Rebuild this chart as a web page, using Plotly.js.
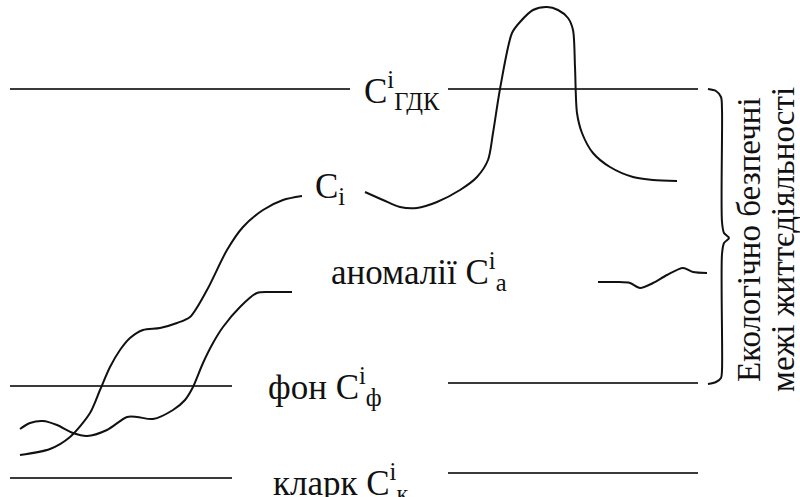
<!DOCTYPE html>
<html>
<head>
<meta charset="utf-8">
<script src="https://cdn.plot.ly/plotly-3.0.1.min.js"></script>
<style>
  #chart text, #chart tspan { font-family: "Liberation Serif", serif !important; }
</style>
</head>
<body style="margin:0">
<div id="chart"></div>
<script>
// рівні концентрацій (горизонтальні лінії), ліва і права частини
const levelY = [89, 386, 478]
const levelYRight = [89, 383, 473]
const leftEnd = [350, 232, 232]
const rightStart = [448, 448, 448]
const lineStart = 10
const lineEnd = 698

// крива Ci (дві частини, розрив під підписом)
const ciX1 = [20, 50, 70, 90, 100, 110, 120, 130, 143, 160, 177, 190, 207, 227, 243, 263, 283, 302]
const ciY1 = [455, 449, 437, 413, 390, 367, 350, 338, 330, 328, 323, 317, 290, 250, 227, 210, 200, 196]
const ciX2 = [365, 383, 400, 417, 437, 460, 477, 488, 493, 500, 512, 520, 533, 547, 558, 568, 573, 575, 577, 582, 593, 610, 633, 653, 677]
const ciY2 = [192, 200, 207, 208, 202, 190, 177, 160, 133, 89, 33, 22, 10, 7, 10, 18, 30, 67, 113, 133, 153, 167, 177, 180, 181]

// друга крива (нижня)
const c2X = [20, 30, 43, 57, 73, 87, 107, 127, 137, 153, 173, 185, 193, 203, 213, 223, 240, 257, 270, 292]
const c2Y = [429, 423, 421, 425, 433, 436, 430, 417, 417, 419, 410, 400, 387, 363, 343, 327, 307, 293, 292, 292]

// хвиля аномалії
const anX = [598, 617, 630, 640, 653, 667, 683, 693, 707]
const anY = [282, 282, 283, 288, 283, 275, 268, 272, 273]

// фігурна дужка
const braceX = [708, 716, 721, 722, 722, 724, 729, 724, 722, 722, 721, 716, 708]
const braceY = [89, 91, 97, 110, 222, 233, 238, 243, 254, 370, 378, 382, 384]

// підписи
const labels = ['C<sup>i</sup><sub>ГДК</sub>', 'C<sub>i</sub>', 'аномалії C<sup>i</sup><sub>а</sub>', 'фон C<sup>i</sup><sub>ф</sub>', 'кларк C<sup>i</sup><sub>к</sub>']
const labelX = [362, 313, 329, 266, 271]
const labelY = [90, 188, 271, 386, 482]

const sideLines = ['Екологічно безпечні', 'межі життєдіяльності']
const sideX = [749, 783]
const sideY = 240

let traces = []

// горизонтальні рівні
for (let i = 0; i < levelY.length; i++) {
  traces.push({
    x: [lineStart, leftEnd[i], null, rightStart[i], lineEnd],
    y: [levelY[i], levelY[i], null, levelYRight[i], levelYRight[i]],
    mode: 'lines', line: { color: '#3a3a3a', width: 2 }, hoverinfo: 'skip'
  })
}

const curve = (x, y) => ({
  x: x, y: y, mode: 'lines',
  line: { color: '#111', width: 2, shape: 'spline', smoothing: 0.8 },
  hoverinfo: 'skip'
})

traces.push(curve(ciX1, ciY1))
traces.push(curve(ciX2, ciY2))
traces.push(curve(c2X, c2Y))
traces.push(curve(anX, anY))
traces.push(curve(braceX, braceY))

let annotations = labels.map((t, i) => ({
  x: labelX[i], y: labelY[i], xref: 'x', yref: 'y',
  xanchor: 'left', yanchor: 'middle', showarrow: false,
  text: t, font: { family: 'Liberation Serif', size: 35 }
}))

sideLines.forEach((t, i) => {
  annotations.push({
    x: sideX[i], y: sideY, xref: 'x', yref: 'y',
    xanchor: 'center', yanchor: 'middle', showarrow: false,
    textangle: -90, text: t, font: { family: 'Liberation Serif', size: 33 }
  })
})

const layout = {
  width: 800, height: 497,
  margin: { l: 0, r: 0, t: 0, b: 0 },
  font: { family: 'Liberation Serif', color: '#111' },
  showlegend: false,
  xaxis: { range: [0, 800], visible: false },
  yaxis: { range: [497, 0], visible: false },
  annotations: annotations
}

Plotly.newPlot('chart', traces, layout, { displayModeBar: false })
</script>
</body>
</html>
